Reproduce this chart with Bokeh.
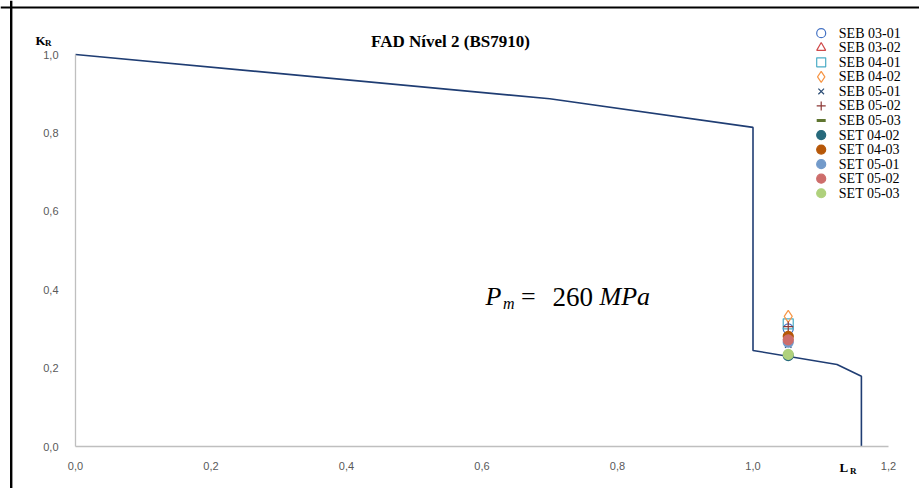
from bokeh.plotting import figure
from bokeh.models import Label, Span, FixedTicker, Range1d
from bokeh.core.properties import value
from bokeh.embed import file_html
from bokeh.resources import INLINE

# Failure assessment line, BS7910 level 2
fad_lr = [0.0, 0.7, 1.0, 1.0, 1.124, 1.160, 1.160]
fad_kr = [1.0, 0.887, 0.814, 0.245, 0.209, 0.179, 0.0]

# Assessment points of the specimens
specimens = ["SEB 03-01", "SEB 03-02", "SEB 04-01", "SEB 04-02", "SEB 05-01", "SEB 05-02",
             "SEB 05-03", "SET 04-02", "SET 04-03", "SET 05-01", "SET 05-02", "SET 05-03"]
spec_lr = [1.052, 1.052, 1.052, 1.052, 1.052, 1.052,
           1.052, 1.052, 1.052, 1.052, 1.052, 1.052]
spec_kr = [0.300, 0.280, 0.313, 0.332, 0.260, 0.306,
           0.281, 0.232, 0.281, 0.266, 0.272, 0.235]
spec_marker = ["circle", "triangle", "square", "diamond", "x", "cross",
               "dash", "circle", "circle", "circle", "circle", "circle"]
spec_color = ["#4472C4", "#D04A4A", "#4BACC6", "#F79646", "#2C4D75", "#8C3836",
              "#5F7530", "#276A7C", "#B65708", "#729ACA", "#CD6D6B", "#AFD17C"]
spec_filled = [False, False, False, False, False, False,
               False, True, True, True, True, True]

x_ticks = [0.0, 0.2, 0.4, 0.6, 0.8, 1.0, 1.2]
x_tick_labels = ["0,0", "0,2", "0,4", "0,6", "0,8", "1,0", "1,2"]
y_ticks = [0.0, 0.2, 0.4, 0.6, 0.8, 1.0]
y_tick_labels = ["0,0", "0,2", "0,4", "0,6", "0,8", "1,0"]

SERIF = "Liberation Serif"

# Canvas mapping: the frame fills the whole canvas, origin at (75, 446) px
W, H = 919, 488
X0_PX, Y0_PX = 75.0, 446.0
PX_PER_LR, PX_PER_KR = 677.5, 392.0


def to_lr(px):
    return (px - X0_PX) / PX_PER_LR


def to_kr(py):
    return (Y0_PX - py) / PX_PER_KR


p = figure(width=W, height=H, output_backend="svg", toolbar_location=None,
           x_range=Range1d(to_lr(0), to_lr(W)), y_range=Range1d(to_kr(H), to_kr(0)),
           min_border=0)
p.outline_line_color = None
p.xgrid.visible = False
p.ygrid.visible = False
p.background_fill_color = "white"
p.border_fill_color = "white"

for ax, ticks, labels in ((p.xaxis[0], x_ticks, x_tick_labels), (p.yaxis[0], y_ticks, y_tick_labels)):
    ax.fixed_location = 0
    ax.ticker = FixedTicker(ticks=ticks)
    ax.major_label_overrides = {t: l for t, l in zip(ticks, labels)}
    ax.axis_line_color = "#BFBFBF"
    ax.axis_line_width = 1.3
    ax.major_tick_line_color = None
    ax.minor_tick_line_color = None
    ax.major_label_text_color = "#595959"
    ax.major_label_text_font = "Liberation Sans"
    ax.major_label_text_font_size = "11px"
p.xaxis.bounds = (0, 1.2)
p.yaxis.bounds = (0, 1.0)
p.xaxis.major_label_standoff = 9
p.yaxis.major_label_standoff = 11

p.line(fad_lr, fad_kr, line_color="#1F3D73", line_width=1.6)


def marker_style(mk, filled, col):
    size, lw = 10, 1.2
    if mk == "diamond":
        size = 12
    if mk == "x":
        size = 9
    if mk == "dash":
        lw = 3
    return dict(marker=mk, size=size, fill_color=col if filled else None,
                line_color=col, line_width=lw)


for lr, kr, mk, col, filled in zip(spec_lr, spec_kr, spec_marker, spec_color, spec_filled):
    p.scatter([lr], [kr], **marker_style(mk, filled, col))

# Legend column in the upper right corner
LEG_MARK_PX, LEG_TEXT_PX, LEG_TOP_PX, LEG_ROW_PX = 820.7, 838.3, 32.7, 14.55
for i, (name, mk, col, filled) in enumerate(zip(specimens, spec_marker, spec_color, spec_filled)):
    row_y = to_kr(LEG_TOP_PX + i * LEG_ROW_PX)
    style = marker_style(mk, filled, col)
    style["size"] = style["size"] - 1
    p.scatter([to_lr(LEG_MARK_PX)], [row_y], **style)
    p.text([to_lr(LEG_TEXT_PX)], [row_y], text=[name], text_font=value(SERIF),
           text_font_size="14px", text_baseline="middle", text_align="left",
           text_color="black")

# Title and axis symbols
p.add_layout(Label(x=to_lr(450), y=to_kr(41), text="FAD Nível 2 (BS7910)", text_align="center",
                   text_baseline="middle", text_font=SERIF, text_font_style="bold",
                   text_font_size="17px", text_color="black"))
p.add_layout(Label(x=to_lr(35), y=to_kr(40), text="K", text_font=SERIF, text_font_style="bold",
                   text_font_size="13px", text_baseline="alphabetic", text_color="black"))
p.add_layout(Label(x=to_lr(44.5), y=to_kr(42.5), text="R", text_font=SERIF, text_font_style="bold",
                   text_font_size="9px", text_baseline="alphabetic", text_color="black"))
p.add_layout(Label(x=to_lr(839), y=to_kr(467), text="L", text_font=SERIF, text_font_style="bold",
                   text_font_size="13px", text_baseline="alphabetic", text_color="black"))
p.add_layout(Label(x=to_lr(849.5), y=to_kr(470), text="R", text_font=SERIF, text_font_style="bold",
                   text_font_size="9px", text_baseline="alphabetic", text_color="black"))

# Membrane stress annotation
eq_parts = [("P", 485, 296, "italic", "26px"),
            ("m", 502.5, 302.5, "italic", "16px"),
            ("=", 520.5, 296, "normal", "26px"),
            ("260", 552, 296, "normal", "27px"),
            ("MPa", 599, 296, "italic", "26px")]
for txt, px, py, style, fs in eq_parts:
    p.add_layout(Label(x=to_lr(px), y=to_kr(py), text=txt, text_font=SERIF, text_font_style=style,
                       text_font_size=fs, text_baseline="alphabetic", text_color="black"))

# Top and left edges of the chart box
p.add_layout(Span(location=to_kr(7), dimension="width", line_color="black", line_width=2.2))
p.add_layout(Span(location=to_lr(10.7), dimension="height", line_color="black", line_width=2.4))

open("out.html", "w").write(file_html(p, INLINE))
